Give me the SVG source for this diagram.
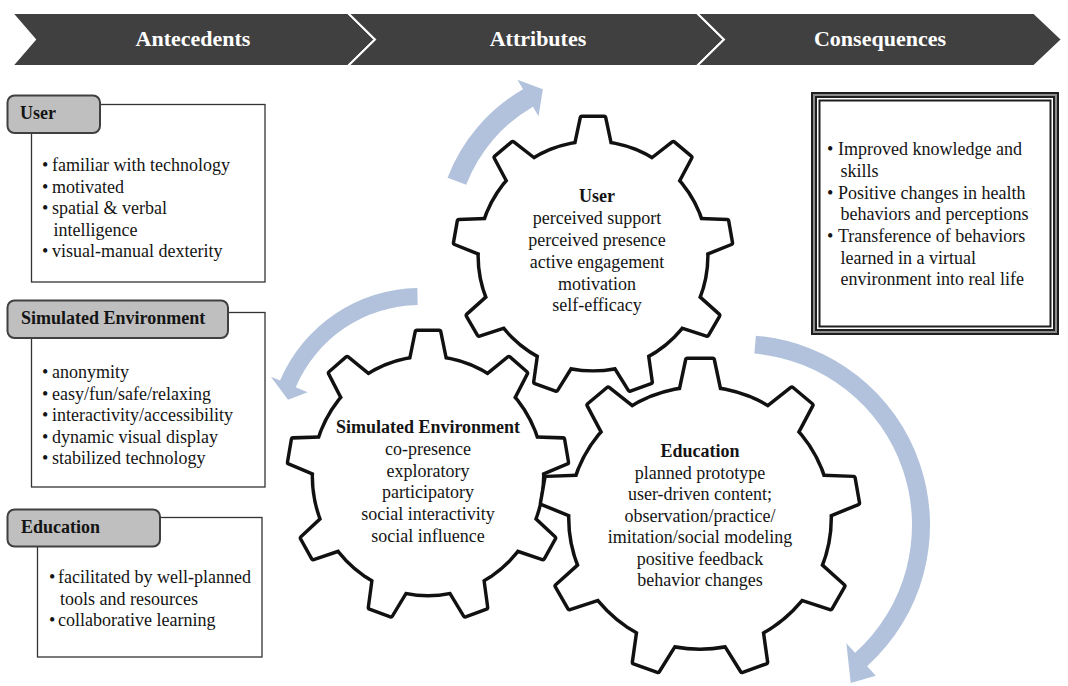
<svg xmlns="http://www.w3.org/2000/svg" xmlns:xlink="http://www.w3.org/1999/xlink" width="1068" height="686" viewBox="0 0 1068 686">
  <style>
    text { font-family: "Liberation Serif", "Times New Roman", serif; font-size: 18px; fill: #141414; }
    .hdr { font-size: 22px; font-weight: bold; fill: #ffffff; text-anchor: middle; }
    .b { font-weight: bold; }
    .c { text-anchor: middle; }
    .chev { fill: #404040; stroke: #ffffff; stroke-width: 2; }
    .tab { fill: #bfbfbf; stroke: #404040; stroke-width: 2; }
    .box { fill: #ffffff; stroke: #333333; stroke-width: 1.3; }
    .arrow { fill: #b2c2dc; }
    .frameDark { fill: none; stroke: #1e1e1e; stroke-width: 2; }
    .frameGray { fill: none; stroke: #8c8c8c; stroke-width: 2; }
  </style>
  <defs>
    <!-- unit gear (tip radius 100): a body circle plus nine teeth 40 degrees apart -->
    <g id="gearBody">
      <circle r="82"/>
      <path id="tooth" d="M-12,-70 L-12,-81.12 L-8,-100 L8,-100 L12,-81.12 L12,-70 Z"/>
      <use xlink:href="#tooth" href="#tooth" transform="rotate(40)"/>
      <use xlink:href="#tooth" href="#tooth" transform="rotate(80)"/>
      <use xlink:href="#tooth" href="#tooth" transform="rotate(120)"/>
      <use xlink:href="#tooth" href="#tooth" transform="rotate(160)"/>
      <use xlink:href="#tooth" href="#tooth" transform="rotate(200)"/>
      <use xlink:href="#tooth" href="#tooth" transform="rotate(240)"/>
      <use xlink:href="#tooth" href="#tooth" transform="rotate(280)"/>
      <use xlink:href="#tooth" href="#tooth" transform="rotate(320)"/>
    </g>
  </defs>

  <rect width="1068" height="686" fill="#ffffff"/>

  <!-- header chevrons -->
  <g id="header">
    <polygon class="chev" points="12,13 348,13 375,39.5 348,66 12,66 35,39.5"/>
    <polygon class="chev" points="348,13 697,13 724,39.5 697,66 348,66 375,39.5"/>
    <polygon class="chev" points="697,13 1034,13 1062,39.5 1034,66 697,66 724,39.5"/>
    <text class="hdr" x="193" y="46">Antecedents</text>
    <text class="hdr" x="538" y="46">Attributes</text>
    <text class="hdr" x="880" y="46">Consequences</text>
  </g>

  <!-- antecedent: user -->
  <g id="ante-user">
    <rect class="box" x="31.5" y="104.5" width="233.5" height="177.5"/>
    <rect class="tab" x="7.5" y="95.5" width="92.5" height="37.5" rx="7"/>
    <text class="b" x="20" y="119">User</text>
    <text x="42" y="171">•</text><text x="52" y="171">familiar with technology</text>
    <text x="42" y="192.5">•</text><text x="52" y="192.5">motivated</text>
    <text x="42" y="214">•</text><text x="52" y="214">spatial &amp; verbal</text>
    <text x="53.5" y="235.5">intelligence</text>
    <text x="42" y="257">•</text><text x="52" y="257">visual-manual dexterity</text>
  </g>

  <!-- antecedent: simulated environment -->
  <g id="ante-sim">
    <rect class="box" x="31.5" y="312.5" width="233.5" height="174.5"/>
    <rect class="tab" x="7.5" y="300.5" width="220.5" height="37.5" rx="7"/>
    <text class="b" x="21" y="324">Simulated Environment</text>
    <text x="42" y="378">•</text><text x="52" y="378">anonymity</text>
    <text x="42" y="399.5">•</text><text x="52" y="399.5">easy/fun/safe/relaxing</text>
    <text x="42" y="421">•</text><text x="52" y="421">interactivity/accessibility</text>
    <text x="42" y="442.5">•</text><text x="52" y="442.5">dynamic visual display</text>
    <text x="42" y="464">•</text><text x="52" y="464">stabilized technology</text>
  </g>

  <!-- antecedent: education -->
  <g id="ante-edu">
    <rect class="box" x="37.5" y="517.5" width="224.5" height="139.5"/>
    <rect class="tab" x="7.5" y="509.5" width="152.5" height="37" rx="7"/>
    <text class="b" x="21" y="533">Education</text>
    <text x="49" y="583">•</text><text x="58" y="583">facilitated by well-planned</text>
    <text x="60" y="604.5">tools and resources</text>
    <text x="49" y="626">•</text><text x="58" y="626">collaborative learning</text>
  </g>

  <!-- circular arrows around the gears -->
  <g id="connectors">
    <path class="arrow" d="M447.56,177.64 A174,174 0 0 1 523,89.31 L517.5,79.78 L542.89,89.26 L538.5,116.16 L533,106.63 A154,154 0 0 0 466.23,184.81 Z"/>
    <path class="arrow" d="M417.35,288.02 A152,152 0 0 0 280.08,380.61 L270.88,376.7 L288.03,399.65 L307.7,392.33 L295.73,387.25 A135,135 0 0 1 417.64,305.02 Z"/>
    <path class="arrow" d="M755.9,335.67 A190,190 0 0 1 867.13,666.2 L875.83,675.86 L850.7,683.1 L846.39,643.16 L855.09,652.82 A172,172 0 0 0 754.39,353.6 Z"/>
  </g>

  <!-- gear: user -->
  <g id="gear-user">
    <g transform="translate(593,256) scale(1.38)">
      <use xlink:href="#gearBody" href="#gearBody" fill="#111111" stroke="#111111" stroke-width="5" stroke-linejoin="round"/>
      <use xlink:href="#gearBody" href="#gearBody" fill="#ffffff" stroke="none"/>
    </g>
    <text class="b c" x="597" y="202">User</text>
    <text class="c" x="597" y="224">perceived support</text>
    <text class="c" x="597" y="246">perceived presence</text>
    <text class="c" x="597" y="268">active engagement</text>
    <text class="c" x="597" y="290">motivation</text>
    <text class="c" x="597" y="311">self-efficacy</text>
  </g>

  <!-- gear: simulated environment -->
  <g id="gear-sim">
    <g transform="translate(428,476) scale(1.39,1.44)">
      <use xlink:href="#gearBody" href="#gearBody" fill="#111111" stroke="#111111" stroke-width="4.9" stroke-linejoin="round"/>
      <use xlink:href="#gearBody" href="#gearBody" fill="#ffffff" stroke="none"/>
    </g>
    <text class="b c" x="428" y="433">Simulated Environment</text>
    <text class="c" x="428" y="455">co-presence</text>
    <text class="c" x="428" y="476.5">exploratory</text>
    <text class="c" x="428" y="498">participatory</text>
    <text class="c" x="428" y="520">social interactivity</text>
    <text class="c" x="428" y="541.5">social influence</text>
  </g>

  <!-- gear: education -->
  <g id="gear-edu">
    <g transform="translate(700,518) scale(1.58)">
      <use xlink:href="#gearBody" href="#gearBody" fill="#111111" stroke="#111111" stroke-width="4.4" stroke-linejoin="round"/>
      <use xlink:href="#gearBody" href="#gearBody" fill="#ffffff" stroke="none"/>
    </g>
    <text class="b c" x="700" y="457">Education</text>
    <text class="c" x="700" y="478.5">planned prototype</text>
    <text class="c" x="700" y="500">user-driven content;</text>
    <text class="c" x="700" y="521.5">observation/practice/</text>
    <text class="c" x="700" y="543">imitation/social modeling</text>
    <text class="c" x="700" y="564.5">positive feedback</text>
    <text class="c" x="700" y="586">behavior changes</text>
  </g>

  <!-- consequences -->
  <g id="consequences">
    <rect x="811" y="92" width="248" height="243" fill="#ffffff"/>
    <rect class="frameDark" x="812" y="93" width="246" height="241"/>
    <rect class="frameGray" x="814" y="95" width="242" height="237"/>
    <rect class="frameDark" x="816" y="97" width="238" height="233"/>
    <rect class="frameDark" x="819.5" y="100.5" width="231" height="226"/>
    <text x="827" y="155">•</text><text x="838" y="155">Improved knowledge and</text>
    <text x="840.5" y="177">skills</text>
    <text x="827" y="199">•</text><text x="838" y="199">Positive changes in health</text>
    <text x="840.5" y="220">behaviors and perceptions</text>
    <text x="827" y="242">•</text><text x="838" y="242">Transference of behaviors</text>
    <text x="840.5" y="264">learned in a virtual</text>
    <text x="840.5" y="285">environment into real life</text>
  </g>
</svg>
